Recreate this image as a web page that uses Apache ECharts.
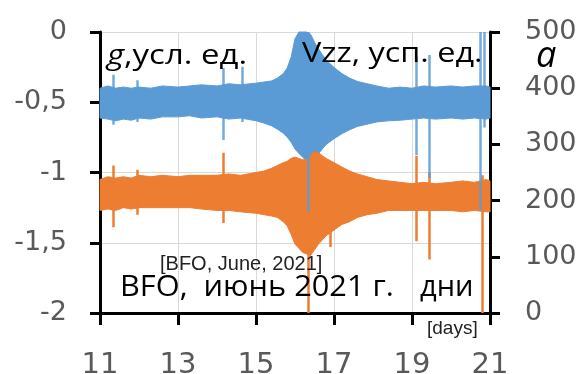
<!DOCTYPE html>
<html>
<head>
<meta charset="utf-8">
<script src="https://cdn.jsdelivr.net/npm/echarts@6/dist/echarts.min.js"></script>
<style>
  html, body { margin: 0; padding: 0; background: #fff; }
  #chart { width: 582px; height: 374px; }
</style>
</head>
<body>
<div id="chart"></div>
<script>
// дни (June 2021)
var days = [11.0, 11.2, 11.4, 11.6, 11.8, 12.0, 12.3, 12.6, 13.0, 13.3, 13.6, 14.0, 14.3, 14.6, 15.0, 15.2,
  15.4, 15.55, 15.7, 15.8, 15.9, 16.0, 16.1, 16.2, 16.3, 16.4, 16.5, 16.6, 16.7, 16.8, 17.0, 17.2,
  17.4, 17.6, 17.85, 18.1, 18.4, 18.7, 19.0, 19.3, 19.6, 20.0, 20.3, 20.6, 20.9, 21.0];

// Vzz envelope (right axis)
var vzzTop = [400, 404, 400, 402, 400, 402, 400, 404, 402, 404, 406, 404, 408, 406, 409, 411,
  413, 418, 426, 436, 455, 488, 500, 500, 500, 496, 482, 470, 460, 450, 437, 426,
  418, 412, 408, 404, 400, 402, 400, 404, 402, 404, 402, 404, 404, 402];
var vzzBottom = [347, 345, 342, 345, 343, 347, 345, 349, 349, 351, 347, 349, 345, 347, 342, 338,
  333, 327, 320, 313, 304, 292, 284, 277, 270, 267, 274, 283, 292, 300, 310, 319,
  326, 332, 336, 340, 342, 343, 345, 347, 345, 347, 345, 347, 345, 347];

// g envelope (left axis)
var gTop = [-1.05, -1.03, -1.04, -1.03, -1.04, -1.02, -1.03, -1.02, -1.03, -1.02, -1.02, -1.02, -1.01, -1.02, -1.00, -0.99,
  -0.97, -0.95, -0.93, -0.92, -0.90, -0.89, -0.90, -0.91, -0.91, -0.88, -0.85, -0.86, -0.88, -0.90, -0.93, -0.96,
  -0.99, -1.01, -1.03, -1.05, -1.06, -1.07, -1.08, -1.07, -1.08, -1.07, -1.06, -1.07, -1.05, -1.06];
var gBottom = [-1.27, -1.26, -1.27, -1.25, -1.26, -1.25, -1.25, -1.25, -1.25, -1.25, -1.26, -1.27, -1.27, -1.28, -1.29, -1.30,
  -1.31, -1.32, -1.35, -1.38, -1.44, -1.51, -1.54, -1.57, -1.58, -1.59, -1.55, -1.51, -1.48, -1.45, -1.41, -1.37,
  -1.35, -1.32, -1.30, -1.29, -1.27, -1.27, -1.27, -1.27, -1.27, -1.27, -1.28, -1.27, -1.28, -1.28];

// spikes: day, top, bottom
var vzzSpikeDays = [11.33, 11.95, 14.15, 14.65, 16.33, 19.1, 19.45, 20.74, 20.84];
var vzzSpikeTop = [424, 414, 436, 438, 500, 456, 459, 500, 500];
var vzzSpikeBottom = [335, 340, 308, 340, 180, 281, 240, 183, 330];

var gSpikeDays = [11.33, 11.95, 14.15, 16.33, 16.9, 19.1, 19.45, 20.8];
var gSpikeTop = [-0.95, -0.98, -0.86, -1.30, -1.40, -0.88, -1.00, -1.02];
var gSpikeBottom = [-1.39, -1.30, -1.36, -2.00, -1.53, -1.49, -1.62, -2.00];

var blue = '#5b9bd5';
var orange = '#ed7d31';
var labelGray = '#595959';

function spikes(xs, top, bottom) {
  return xs.map(function (x, i) { return { coords: [[x, top[i]], [x, bottom[i]]] }; });
}

// band between two envelopes, drawn as one polygon through the axes
function bandSeries(yIndex, top, bottom, color) {
  return {
    type: 'custom', yAxisIndex: yIndex, silent: true,
    data: days.map(function (d, i) { return [d, top[i], bottom[i]]; }),
    encode: { x: 0, y: [1, 2] },
    renderItem: function (params, api) {
      if (params.dataIndex !== 0) return null;
      var pts = [];
      days.forEach(function (d, i) { pts.push(api.coord([d, top[i]])); });
      for (var i = days.length - 1; i >= 0; i--) pts.push(api.coord([days[i], bottom[i]]));
      return {
        type: 'polygon',
        shape: { points: pts },
        style: { fill: color, stroke: color, lineWidth: 1 }
      };
    }
  };
}

var chart = echarts.init(document.getElementById('chart'));
chart.setOption({
  animation: false,
  grid: { left: 100, right: 92, top: 32, bottom: 61, outerBoundsMode: 'none' },
  xAxis: {
    type: 'value', min: 11, max: 21, interval: 2,
    axisLine: { onZero: false, lineStyle: { color: '#000', width: 3 } },
    axisTick: { length: 12, lineStyle: { color: '#000', width: 3 } },
    splitLine: { show: true, lineStyle: { color: '#d9d9d9', width: 1 } },
    axisLabel: { color: labelGray, fontFamily: 'DejaVu Sans', fontSize: 29, margin: 38 }
  },
  yAxis: [{
    type: 'value', min: -2, max: 0, interval: 0.5,
    axisLine: { show: true, onZero: false, lineStyle: { color: '#000', width: 3 } },
    axisTick: { show: true, length: 10, lineStyle: { color: '#000', width: 3 } },
    splitLine: { show: true, lineStyle: { color: '#d9d9d9', width: 1 } },
    axisLabel: {
      color: labelGray, fontFamily: 'DejaVu Sans', fontSize: 27, margin: 33,
      formatter: function (v) { return String(v).replace('.', ','); }
    }
  }, {
    type: 'value', min: 0, max: 500, interval: 100, position: 'right',
    axisLine: { show: true, onZero: false, lineStyle: { color: '#000', width: 3 } },
    axisTick: { show: true, length: 10, lineStyle: { color: '#000', width: 3 } },
    splitLine: { show: false },
    axisLabel: { color: labelGray, fontFamily: 'DejaVu Sans', fontSize: 27, margin: 35 }
  }],
  series: [
    bandSeries(1, vzzTop, vzzBottom, blue),
    bandSeries(0, gTop, gBottom, orange),
    {
      type: 'lines', coordinateSystem: 'cartesian2d', xAxisIndex: 0, yAxisIndex: 0, silent: true,
      lineStyle: { color: orange, width: 2.5, opacity: 1 },
      data: spikes(gSpikeDays, gSpikeTop, gSpikeBottom)
    },
    {
      type: 'lines', coordinateSystem: 'cartesian2d', xAxisIndex: 0, yAxisIndex: 1, silent: true,
      lineStyle: { color: blue, width: 2.5, opacity: 0.85 },
      data: spikes(vzzSpikeDays, vzzSpikeTop, vzzSpikeBottom)
    }
  ],
  graphic: [
    {
      type: 'text', x: 107, y: 56, scaleX: 1.22, z: 10,
      style: {
        text: '{i|g},усл. ед.', fill: '#000', font: '27px "Open Sans"', verticalAlign: 'middle',
        rich: { i: { fontStyle: 'italic', fontFamily: 'Open Sans', fontSize: 27, fill: '#000' } }
      }
    },
    {
      type: 'text', x: 302, y: 54, scaleX: 1.2, z: 10,
      style: { text: 'Vzz, усп. ед.', fill: '#000', font: '27px "Open Sans"', verticalAlign: 'middle' }
    },
    {
      type: 'text', x: 536, y: 57, z: 10,
      style: { text: 'a', fill: '#000', font: 'italic 36px "Open Sans"', verticalAlign: 'middle' }
    },
    {
      type: 'text', x: 160, y: 264, z: 10,
      style: { text: '[BFO, June, 2021]', fill: '#222', font: '20px "Liberation Sans"', verticalAlign: 'middle' }
    },
    {
      type: 'text', x: 120, y: 288, scaleX: 1.06, z: 10,
      style: { text: 'BFO,  июнь 2021 г.', fill: '#000', font: '29px "Open Sans"', verticalAlign: 'middle' }
    },
    {
      type: 'text', x: 420, y: 288, z: 10,
      style: { text: 'дни', fill: '#000', font: '29px "Open Sans"', verticalAlign: 'middle' }
    },
    {
      type: 'text', x: 427, y: 329, z: 10,
      style: { text: '[days]', fill: '#222', font: '19px "Liberation Sans"', verticalAlign: 'middle' }
    }
  ]
});
</script>
</body>
</html>
